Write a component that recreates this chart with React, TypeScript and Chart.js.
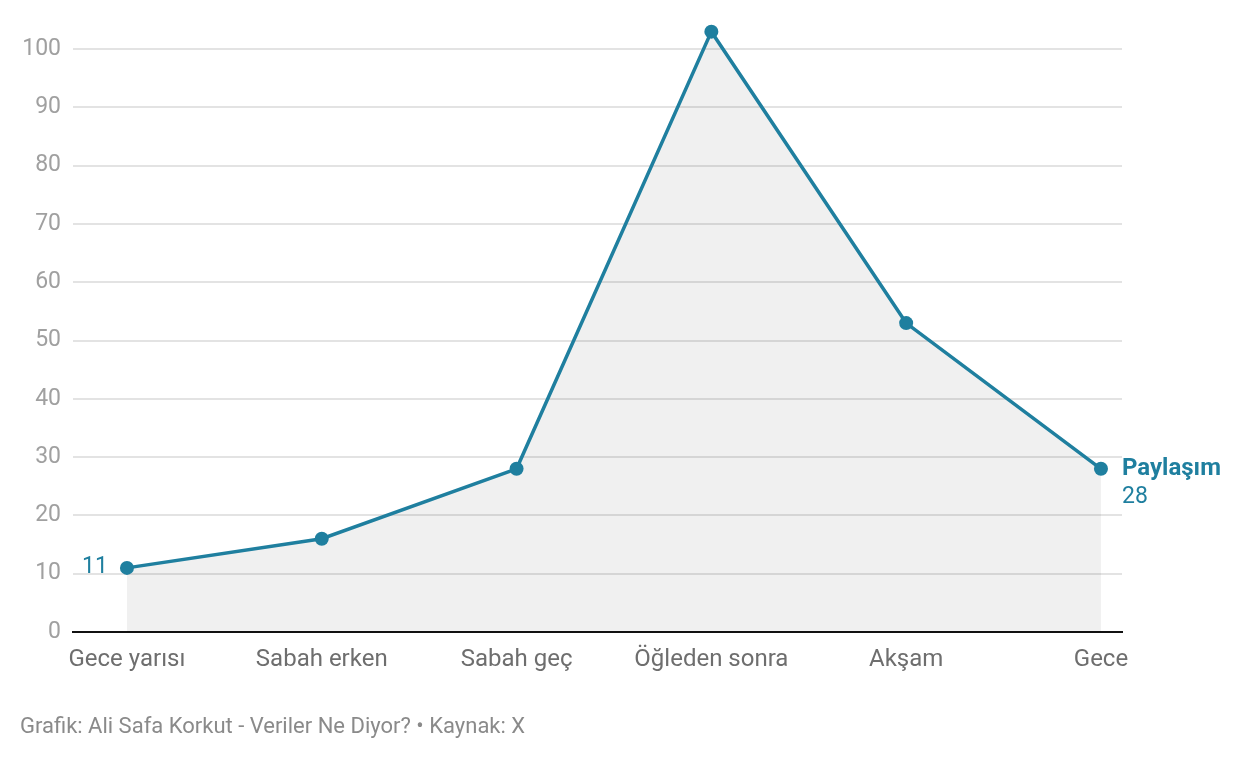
import React, { useEffect, useRef } from "react";
import { Chart, registerables } from "chart.js";

Chart.register(...registerables);

const categories = ["Gece yarısı", "Sabah erken", "Sabah geç", "Öğleden sonra", "Akşam", "Gece"];
const shares = [11, 16, 28, 103, 53, 28];
const yTicks = [0, 10, 20, 30, 40, 50, 60, 70, 80, 90, 100];
const seriesName = "Paylaşım";
const footerText = "Grafik: Ali Safa Korkut - Veriler Ne Diyor? • Kaynak: X";

const LINE = "#1f7f9f";
const FONT = "Roboto, 'Noto Sans', sans-serif";

const labelPlugin = {
  id: "endLabels",
  afterDatasetsDraw(chart: any) {
    const ctx = chart.ctx;
    const xs = chart.scales.x;
    const ys = chart.scales.y;
    const n = shares.length;
    ctx.save();
    ctx.fillStyle = LINE;
    ctx.textBaseline = "middle";
    ctx.font = `23px ${FONT}`;
    ctx.textAlign = "right";
    ctx.fillText(String(shares[0]), xs.getPixelForValue(0) - 19, ys.getPixelForValue(shares[0]) - 1);
    const lx = xs.getPixelForValue(n - 1) + 21;
    const ly = ys.getPixelForValue(shares[n - 1]);
    ctx.textAlign = "left";
    ctx.font = `bold 24px ${FONT}`;
    ctx.fillText(seriesName, lx, ly);
    ctx.font = `23px ${FONT}`;
    ctx.fillText(String(shares[n - 1]), lx, ly + 28);
    ctx.restore();
  },
};

export default function App() {
  const ref = useRef<HTMLCanvasElement>(null);
  useEffect(() => {
    if (!ref.current) return;
    const chart = new Chart(ref.current, {
      type: "line",
      data: {
        datasets: [
          {
            data: shares.map((v, i) => ({ x: i, y: v })),
            borderColor: LINE,
            borderWidth: 3.5,
            backgroundColor: "rgba(0,0,0,0.06)",
            fill: "origin",
            pointRadius: 7,
            pointBackgroundColor: LINE,
            pointBorderColor: LINE,
            pointBorderWidth: 0,
            tension: 0,
            clip: false,
          },
        ],
      },
      options: {
        animation: false,
        responsive: false,
        events: [],
        layout: { padding: { top: 20, right: 118, left: 0, bottom: 0 } },
        plugins: { legend: { display: false }, tooltip: { enabled: false } },
        scales: {
          x: {
            type: "linear",
            min: -0.277,
            max: 5.108,
            afterBuildTicks: (s: any) => {
              s.ticks = categories.map((_, i) => ({ value: i }));
            },
            afterFit: (s: any) => {
              s.height = 126;
            },
            grid: { display: false, drawTicks: false },
            border: { display: true, color: "#111", width: 2 },
            ticks: {
              autoSkip: false,
              maxRotation: 0,
              padding: 14,
              color: "#6e6e6e",
              font: { family: FONT, size: 24 },
              callback: (v: any) => categories[v as number] ?? "",
            },
          },
          y: {
            min: 0,
            max: 105,
            afterBuildTicks: (s: any) => {
              s.ticks = yTicks.map((v) => ({ value: v }));
            },
            afterFit: (s: any) => {
              s.width = 73;
              s.paddingTop = 0;
              s.paddingBottom = 0;
            },
            grid: {
              color: (c: any) => (c.tick && c.tick.value === 0 ? "rgba(0,0,0,0)" : "#e3e3e3"),
              lineWidth: 2,
              drawTicks: false,
            },
            border: { display: false },
            ticks: {
              padding: 12,
              color: "#a0a0a0",
              font: { family: FONT, size: 23 },
            },
          },
        },
      },
      plugins: [labelPlugin],
    });
    return () => chart.destroy();
  }, []);
  return (
    <div style={{ position: "absolute", left: 0, top: 0, width: 1240, height: 758, background: "#fff" }}>
      <canvas ref={ref} width={1240} height={758} style={{ display: "block" }} />
      <div
        style={{
          position: "absolute",
          left: 20,
          top: 713,
          fontFamily: FONT,
          fontSize: 22,
          color: "#8a8a8a",
          whiteSpace: "nowrap",
        }}
      >
        {footerText}
      </div>
    </div>
  );
}
